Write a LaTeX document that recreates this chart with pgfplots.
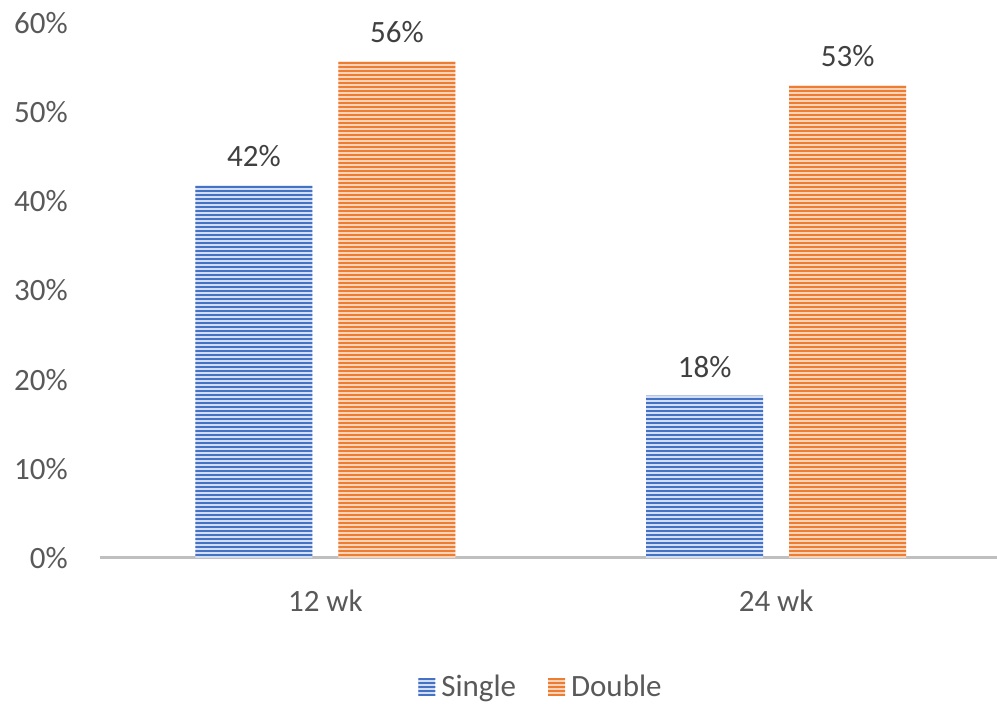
\documentclass[border=0pt]{standalone}
\usepackage{fontspec}
\setmainfont{Carlito}
\usepackage{pgfplots}
\pgfplotsset{compat=1.18}
\usetikzlibrary{patterns}
\pgfdeclarepatternformonly{hstripes}{\pgfpointorigin}{\pgfqpoint{1200pt}{4pt}}{\pgfqpoint{1200pt}{4pt}}{%
  \pgfpathrectangle{\pgfqpoint{0pt}{0pt}}{\pgfqpoint{1200pt}{2.2pt}}\pgfusepath{fill}}
\definecolor{cblue}{HTML}{4472C4}
\definecolor{cblueL}{HTML}{D3DEF2}
\definecolor{corange}{HTML}{ED7D31}
\definecolor{corangeL}{HTML}{FAD3BB}
\definecolor{txt}{HTML}{595959}
\definecolor{txtd}{HTML}{404040}
\definecolor{axl}{HTML}{BFBFBF}
\pgfplotsset{sqlegend/.style={legend image code/.code={\path[##1] (0pt,-9pt) rectangle (17pt,8pt);}}}
\begin{document}
\begin{tikzpicture}
\begin{axis}[name=ax, scale only axis, width=897pt, height=535pt,
  /pgf/number format/assume math mode=true,
  ybar=26pt, bar width=117pt,
  xmin=-0.5, xmax=1.49, ymin=0, ymax=60,
  axis x line*=bottom, axis y line*=left,
  x axis line style={draw=axl, line width=3pt},
  y axis line style={draw=none},
  xtick={0,1}, xticklabels={12 wk, 24 wk},
  ytick={0,10,...,60}, yticklabel={\pgfmathprintnumber{\tick}\%},
  major tick length=0pt, tick style={draw=none},
  tick label style={font=\fontsize{31}{37}\selectfont, text=txt},
  yticklabel style={inner sep=0pt, anchor=east, xshift=-32pt},
  xticklabel style={inner sep=0pt, anchor=north, yshift=-32pt},
  nodes near coords={\pgfmathprintnumber[fixed,precision=0]{\pgfplotspointmeta}\%},
  every node near coord/.append style={font=\fontsize{31}{37}\selectfont, text=txtd, inner sep=0pt, anchor=south, yshift=18pt},
  legend style={at={(0.4916,-0.241)}, anchor=center, draw=none, fill=none,
    legend columns=2, font=\fontsize{31}{37}\selectfont, text=txt,
    /tikz/every even column/.append style={column sep=30pt},
    /tikz/every odd column/.append style={column sep=4pt}},
]
\addplot[fill=cblueL, draw=none,
  postaction={pattern=hstripes, pattern color=cblue},
  sqlegend]
  coordinates {(0,41.8) (1,18.2)};
\addplot[fill=corangeL, draw=none,
  postaction={pattern=hstripes, pattern color=corange},
  sqlegend]
  coordinates {(0,55.7) (1,53.0)};
\legend{Single, Double}
\end{axis}
\pgfresetboundingbox
\path[use as bounding box] ([xshift=-100pt,yshift=-146pt]ax.south west) rectangle ([yshift=23pt]ax.north east);
\end{tikzpicture}
\end{document}
